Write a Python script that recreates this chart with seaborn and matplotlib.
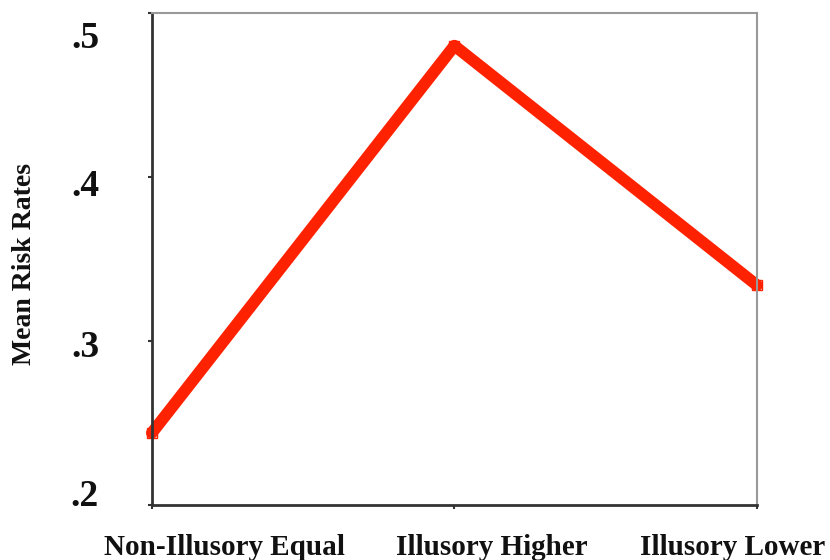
import matplotlib
matplotlib.use('Agg')
import matplotlib.pyplot as plt
import matplotlib.transforms as mtransforms
import seaborn as sns
import pandas as pd

categories = ['Non-Illusory Equal', 'Illusory Higher', 'Illusory Lower']
mean_risk = [0.244, 0.480, 0.334]
y_ticks = [0.2, 0.3, 0.4, 0.5]
y_tick_labels = ['.2', '.3', '.4', '.5']

sns.set_style('white')
plt.rcParams['font.family'] = ['Liberation Serif', 'DejaVu Serif']
plt.rcParams['font.weight'] = 'bold'

df = pd.DataFrame({'group': categories, 'risk': mean_risk})

fig = plt.figure(figsize=(8.3, 5.6), dpi=100)
ax = fig.add_axes([0.183, 0.098, 0.729, 0.879])

sns.lineplot(data=df, x='group', y='risk', ax=ax, color='#ff2200',
             linewidth=8.5, marker='s', markersize=7, markerfacecolor='none',
             markeredgecolor='#ff2200', markeredgewidth=1.0, sort=False,
             solid_joinstyle='round', clip_on=False)

ax.set_xlim(0, 2)
ax.set_ylim(0.2, 0.5)
ax.set_yticks(y_ticks)
ax.set_yticklabels(y_tick_labels, fontsize=27, fontweight='bold', color='#111111')
ax.set_xticks(range(len(categories)))
ax.set_xticklabels(categories, fontsize=21, fontweight='bold', color='#111111')
ax.set_xlabel('')
ax.set_ylabel('Mean Risk Rates', fontsize=20, fontweight='bold', color='#111111')
ax.yaxis.set_label_coords(-0.19, 0.49)

ax.tick_params(axis='y', direction='out', length=3, width=1.5, color='#333333', pad=35, left=True)
ax.tick_params(axis='x', direction='out', length=3, width=1.5, color='#333333', pad=18, bottom=True)

for side in ['left', 'bottom']:
    ax.spines[side].set_color('#333333')
    ax.spines[side].set_linewidth(2)
for side in ['top', 'right']:
    ax.spines[side].set_visible(True)
    ax.spines[side].set_color('#999999')
    ax.spines[side].set_linewidth(1.5)

# labels in the source are not centred on their ticks
x_shift = [0.73, 0.37, -0.24]
for lab, dx in zip(ax.get_xticklabels(), x_shift):
    lab.set_transform(lab.get_transform() + mtransforms.ScaledTranslation(dx, 0, fig.dpi_scale_trans))
y_shift = [0.13, -0.02, -0.06, -0.22]
for lab, dy in zip(ax.get_yticklabels(), y_shift):
    lab.set_transform(lab.get_transform() + mtransforms.ScaledTranslation(0, dy, fig.dpi_scale_trans))

fig.savefig('out.png', dpi=100)
